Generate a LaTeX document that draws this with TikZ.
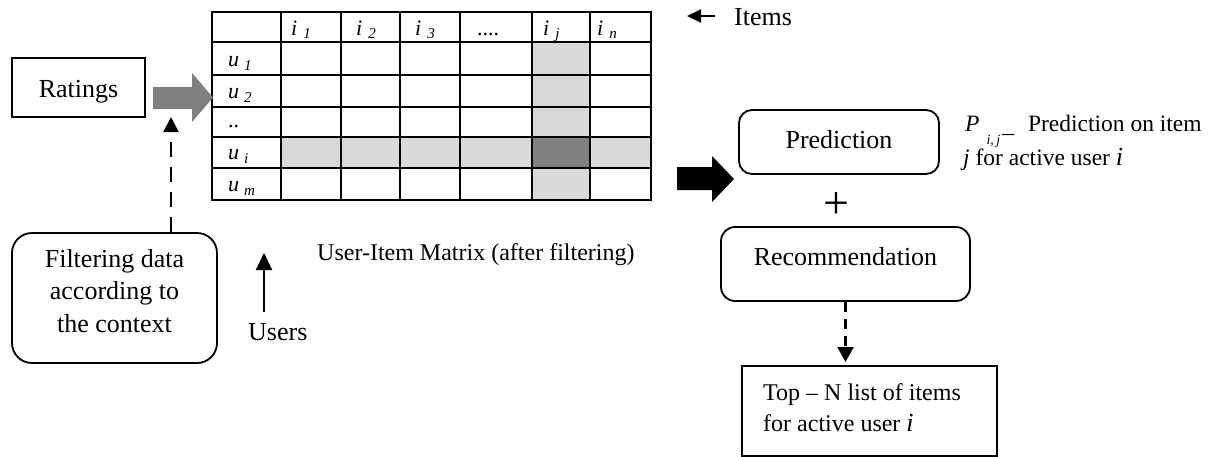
\documentclass[tikz,border=0pt]{standalone}
\usepackage{fontspec}
\setmainfont{Liberation Serif}
\usetikzlibrary{arrows.meta}
\definecolor{cellgray}{HTML}{D9D9D9}
\definecolor{celldark}{HTML}{808080}
\definecolor{feedgray}{HTML}{808080}
\newcommand{\fs}[1]{\fontsize{#1}{#1}\selectfont}
\newcommand{\fsl}[2]{\fontsize{#1}{#2}\selectfont}
\newcommand{\hdr}[1]{{\itshape i}\hspace{6pt}\raisebox{-3pt}{\fs{15}\itshape #1}}
\newcommand{\usr}[1]{{\itshape u}\hspace{5pt}\raisebox{-4pt}{\fs{15}\itshape #1}}
\tikzset{
  box/.style={draw, line width=1.8pt, inner sep=0pt},
  roundbox/.style={box, rounded corners=#1},
  roundbox/.default=14pt,
  bigtext/.style={font=\fs{26}, inner sep=0pt},
  midtext/.style={font=\fs{24}, inner sep=0pt},
  celltext/.style={font=\fs{22}, inner sep=0pt, anchor=base west},
  gridline/.style={line width=1.8pt, line cap=rect},
  dasharrow/.style={line width=2.2pt, dash pattern=on 15pt off 10pt,
    -{Triangle[length=15pt,width=15pt]}},
  shortdash/.style={line width=2.2pt, dash pattern=on 10pt off 7pt,
    -{Triangle[length=15pt,width=16pt]}},
  solidarrow/.style={line width=2pt, -{Triangle[length=17pt,width=16pt]}},
}
\begin{document}
\begin{tikzpicture}[x=1pt, y=-1pt]
\useasboundingbox[fill=white] (0,0) rectangle (1219,456);

% ---- user-item matrix ----
\fill[cellgray] (532,42) rectangle (590,200);
\fill[cellgray] (281,137) rectangle (651,168);
\fill[celldark] (532,137) rectangle (590,168);
\foreach \x in {212,281,341,400,460,532,590,651}
  \draw[gridline] (\x,12) -- (\x,200);
\foreach \y in {12,42,75,107,137,168,200}
  \draw[gridline] (212,\y) -- (651,\y);
\node[minimum width=439pt, minimum height=188pt, inner sep=0pt] (mat) at (431.5,106) {};

% column heads
\node[celltext] (h1) at (291,35) {\hdr{1}};
\node[celltext] (h2) at (356,35) {\hdr{2}};
\node[celltext] (h3) at (415,35) {\hdr{3}};
\node[celltext] (hd) at (477,35) {....};
\node[celltext] (hj) at (543,35) {\hdr{j}};
\node[celltext] (hn) at (597,35) {\hdr{n}};
% row heads
\node[celltext] (r1) at (228,66) {\usr{1}};
\node[celltext] (r2) at (228,98) {\usr{2}};
\node[celltext] (rd) at (228,127) {..};
\node[celltext] (ri) at (228,159) {\usr{i}};
\node[celltext] (rm) at (228,191) {\usr{m}};

% ---- left side ----
\node[box, minimum width=133pt, minimum height=59pt] (ratings) at (78.5,87.5) {};
\node[bigtext, anchor=base] (ratingstxt) at (78.5,97) {Ratings};

\node[roundbox=20pt, minimum width=205pt, minimum height=130pt] (filter) at (114.5,298) {};
\node[inner sep=0pt, align=center, font=\fsl{26}{32.5}] (filtertxt) at (114.5,291)
  {Filtering data\\according to\\the context};

% grey block arrow: ratings -> matrix
\fill[feedgray] (153,87) -- (192,87) -- (192,73) -- (213,97.5) -- (192,122)
  -- (192,109) -- (153,109) -- cycle;

\coordinate (filterin) at (171,117);
\draw[dasharrow] (filterin |- filter.north) -- (filterin);

% users / items markers
\coordinate (usertail) at (264,312);
\coordinate (userhead) at (264,253);
\draw[solidarrow] (usertail) -- (userhead);
\node[bigtext, anchor=base west] (users) at (248,340) {Users};

\coordinate (itemtail) at (715,16);
\coordinate (itemhead) at (687,16);
\draw[line width=2pt, -{Triangle[length=14pt,width=13pt]}] (itemtail) -- (itemhead);
\node[bigtext, anchor=base west] (items) at (734,25) {Items};

\node[midtext, anchor=base west] (matlabel) at (317,260) {User-Item Matrix (after filtering)};

% black block arrow: matrix -> prediction
\fill[black] (677,167) -- (712,167) -- (712,156) -- (734,179) -- (712,202)
  -- (712,190) -- (677,190) -- cycle;

% ---- right side ----
\node[roundbox=13pt, minimum width=200pt, minimum height=64pt] (pred) at (839,142) {};
\node[bigtext, anchor=base] (predtxt) at (839,148) {Prediction};

\node[inner sep=0pt, font=\fs{46}] (plus) at (836,206) {+};

\node[roundbox=14pt, minimum width=249pt, minimum height=74pt] (reco) at (845.5,264) {};
\node[bigtext, anchor=base] (recotxt) at (845.5,265) {Recommendation};

\node[box, minimum width=255pt, minimum height=90pt] (topn) at (869.5,411) {};
\node[inner sep=0pt, anchor=base west, align=left, font=\fsl{24}{31}] (topntxt) at (763,431)
  {Top -- N list of items\\for active user {\fs{26}\itshape i}};

\coordinate (topin) at (845.5,362);
\draw[shortdash] (reco.south) -- (topin);

\node[anchor=base west, inner sep=0pt, align=left, font=\fsl{23.5}{34}] (note) at (963,165)
  {\hspace{2pt}{\itshape P}\hspace{7pt}\smash{\raisebox{-13pt}{\fs{14}\itshape i,\hspace{2.5pt}j}\hspace{2pt}\raisebox{-9pt}{--}}\hspace{14pt}Prediction on item\\
   {\itshape j} for active user {\fs{26}\itshape i}};
\end{tikzpicture}
\end{document}
